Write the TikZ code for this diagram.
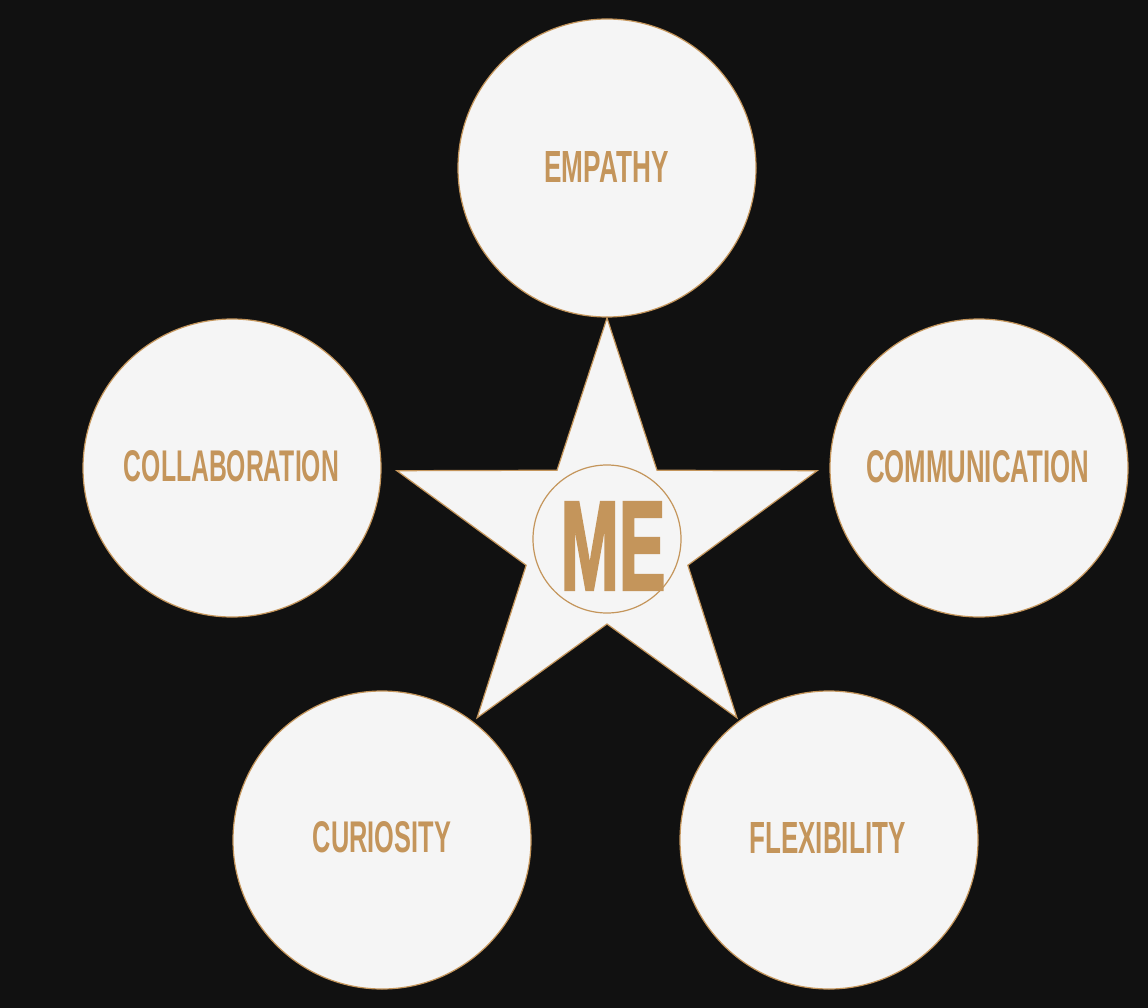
\documentclass[tikz,border=0pt]{standalone}
\usepackage{fontspec}
\setmainfont{Liberation Sans}
\newfontface\mefont{Liberation Sans Bold}[FakeBold=2.5]
\usepackage{graphicx}
\definecolor{bgdark}{HTML}{111111}
\definecolor{paper}{HTML}{F5F5F5}
\definecolor{tan}{HTML}{C4955B}
\newcommand\lbl[3]{\resizebox{#1pt}{#2pt}{\bfseries #3}}
\tikzset{
  bubble/.style={circle, fill=paper, draw=tan, line width=1.2pt, minimum size=298pt, inner sep=0pt},
  mecircle/.style={circle, fill=paper, draw=tan, line width=1.2pt, minimum size=148pt, inner sep=0pt},
  label/.style={inner sep=0pt, text=tan, anchor=center},
  starshape/.style={fill=paper, draw=tan, line width=1.2pt, line join=miter}
}
\begin{document}
\begin{tikzpicture}[x=1pt,y=-1pt]
\fill[bgdark] (0,0) rectangle (1148,1008);
\useasboundingbox (0,0) rectangle (1148,1008);
% outer circles
\node[bubble] (empathy) at (607,168) {};
\node[bubble] (collab) at (232,468) {};
\node[bubble] (comm) at (979,468) {};
\node[bubble] (curio) at (382,840) {};
\node[bubble] (flex) at (829,840) {};
% star
\begin{scope}[shift={(607,539)}]
\draw[starshape] (-90:221) -- (-54:85) -- (-18:221) -- (18:85) -- (54:221) -- (90:85) -- (126:221) -- (162:85) -- (198:221) -- (234:85) -- cycle;
\end{scope}
\node[mecircle] (mecirc) at (607,539) {};
% labels
\node[label] (tempathy) at (606.5,166.5) {\lbl{124}{31}{EMPATHY}};
\node[label] (tcollab) at (231.5,466.5) {\lbl{215}{31}{COLLABORATION}};
\node[label] (tcomm) at (977.5,466.5) {\lbl{223}{32}{COMMUNICATION}};
\node[label] (tcurio) at (382,837.5) {\lbl{138}{31}{CURIOSITY}};
\node[label] (tflex) at (827.5,837.5) {\lbl{156}{31}{FLEXIBILITY}};
\node[label] (tme) at (613,546) {\resizebox{105pt}{87pt}{\mefont ME}};
\end{tikzpicture}
\end{document}
